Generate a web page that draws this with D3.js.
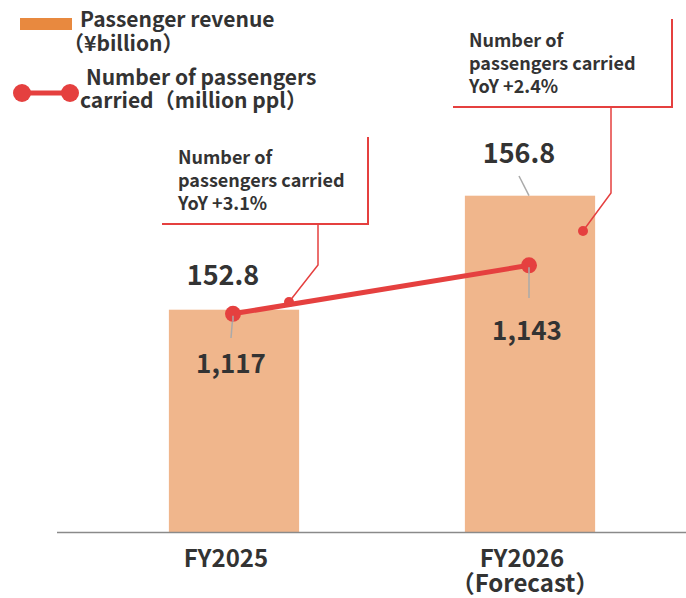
<!DOCTYPE html>
<html>
<head>
<meta charset="utf-8">
<script src="https://cdn.jsdelivr.net/npm/d3@7"></script>
<style>
body{margin:0;background:#fff;}
svg text{font-family:"Noto Sans CJK JP","Noto Sans",sans-serif;fill:#333;}
</style>
</head>
<body>
<svg id="chart" width="686" height="598"></svg>
<script>
// ---- data ----
var years = ["FY2025", "FY2026"];
var yearLabels = [["FY2025"], ["FY2026", "（Forecast）"]];
var revenue = [152.8, 156.8];          // ¥billion
var passengers = [1117, 1143];         // million ppl
var yoyText = ["YoY +3.1%", "YoY +2.4%"];

var COLOR_BAR = "#F0B68C";
var COLOR_LEGEND_BAR = "#E8893F";
var COLOR_RED = "#E5403F";
var BASE_Y = 532;

var svg = d3.select("#chart");

var x = d3.scaleBand().domain(years).range([86, 678]).paddingInner(0.56).paddingOuter(0.28);
// bars don't start at zero in the original
var y = d3.scaleLinear().domain([145, 160]).range([BASE_Y, 104.5]);
var yLine = d3.scaleLinear().domain([1000, 1200]).range([BASE_Y, 159]);

function cx(d){ return x(d) + x.bandwidth()/2; }

// bars
svg.append("g").selectAll("rect")
	.data(years)
	.enter().append("rect")
	.attr("x", function(d){ return x(d); })
	.attr("y", function(d,i){ return y(revenue[i]); })
	.attr("width", x.bandwidth())
	.attr("height", function(d,i){ return BASE_Y - y(revenue[i]); })
	.style("fill", COLOR_BAR);

// axis line
svg.append("line")
	.attr("x1", 57).attr("x2", 686)
	.attr("y1", BASE_Y + 0.5).attr("y2", BASE_Y + 0.5)
	.style("stroke", "#8a8a8a").style("stroke-width", 1.5);

// x labels
yearLabels.forEach(function(lines, i){
	lines.forEach(function(t, j){
		svg.append("text")
			.text(t)
			.attr("x", cx(years[i]) - 8 + (j == 1 ? 3 : 0))
			.attr("y", 567 + j*25)
			.style("text-anchor", "middle")
			.style("font-size", "24px")
			.style("font-weight", "bold");
	});
});

// revenue labels
var revLabelPos = [{dx:-11, y:285}, {dx:-11, y:163}];
revenue.forEach(function(v, i){
	svg.append("text")
		.text(d3.format(".1f")(v))
		.attr("x", cx(years[i]) + revLabelPos[i].dx)
		.attr("y", revLabelPos[i].y)
		.style("text-anchor", "middle")
		.style("font-size", "27px")
		.style("font-weight", "bold");
});
// leader for 156.8
svg.append("line")
	.attr("x1", cx(years[1]) - 11).attr("y1", 176)
	.attr("x2", cx(years[1]) - 1).attr("y2", y(revenue[1]))
	.style("stroke", "#aaa").style("stroke-width", 1.5);

// passenger line
var pts = years.map(function(d, i){ return [cx(d) - 1, yLine(passengers[i])]; });

// gray leaders under points
var paxLabelY = [373, 340];
pts.forEach(function(p, i){
	svg.append("line")
		.attr("x1", p[0]).attr("y1", p[1])
		.attr("x2", p[0] - (i == 0 ? 2 : 0)).attr("y2", paxLabelY[i] - 35 + (i == 0 ? 0 : -7))
		.style("stroke", "#aaa").style("stroke-width", 1.5);
	svg.append("text")
		.text(d3.format(",")(passengers[i]))
		.attr("x", p[0] - 2)
		.attr("y", paxLabelY[i])
		.style("text-anchor", "middle")
		.style("font-size", "26px")
		.style("font-weight", "bold");
});

svg.append("path")
	.attr("d", d3.line()(pts))
	.style("fill", "none")
	.style("stroke", COLOR_RED)
	.style("stroke-width", 5);
svg.selectAll("circle.pt")
	.data(pts)
	.enter().append("circle")
	.attr("class", "pt")
	.attr("cx", function(d){ return d[0]; })
	.attr("cy", function(d){ return d[1]; })
	.attr("r", 8)
	.style("fill", COLOR_RED);
// redraw gray leaders on top of the points (they poke into the dots)
pts.forEach(function(p, i){
	svg.append("line")
		.attr("x1", p[0]).attr("y1", p[1] + 2)
		.attr("x2", p[0]).attr("y2", p[1] + 8)
		.style("stroke", "#aaa").style("stroke-width", 1.5);
});

// callouts
var callouts = [
	{tx:178, ty:164, boxL:162, boxR:368, boxTop:137, boxBot:224, legX:318, legY:265, dotX:289, dotY:302},
	{tx:469, ty:47, boxL:453, boxR:672, boxTop:19, boxBot:107, legX:611, legY:193, dotX:583, dotY:231}
];
callouts.forEach(function(c, i){
	var g = svg.append("g");
	g.append("path")
		.attr("d", "M" + c.boxL + "," + c.boxBot + "H" + c.boxR + "V" + c.boxTop)
		.style("fill", "none").style("stroke", COLOR_RED).style("stroke-width", 2);
	g.append("path")
		.attr("d", "M" + c.legX + "," + c.boxBot + "V" + c.legY + "L" + c.dotX + "," + c.dotY)
		.style("fill", "none").style("stroke", COLOR_RED).style("stroke-width", 1.5);
	g.append("circle")
		.attr("cx", c.dotX).attr("cy", c.dotY).attr("r", 5)
		.style("fill", COLOR_RED);
	var lines = ["Number of", "passengers carried", yoyText[i]];
	lines.forEach(function(t, j){
		g.append("text")
			.text(t)
			.attr("x", c.tx)
			.attr("y", c.ty + j*23)
			.style("font-size", "18px")
			.style("font-weight", "bold");
	});
});

// legend
var leg = svg.append("g");
leg.append("rect")
	.attr("x", 20).attr("y", 18).attr("width", 52).attr("height", 12)
	.style("fill", COLOR_LEGEND_BAR);
leg.append("text").text("Passenger revenue")
	.attr("x", 80).attr("y", 27)
	.style("font-size", "21px").style("font-weight", "bold");
leg.append("text").text("（¥billion）")
	.attr("x", 63).attr("y", 51)
	.style("font-size", "21px").style("font-weight", "bold");
leg.append("line")
	.attr("x1", 22).attr("x2", 70).attr("y1", 93).attr("y2", 93)
	.style("stroke", COLOR_RED).style("stroke-width", 5);
leg.selectAll("circle")
	.data([22, 70])
	.enter().append("circle")
	.attr("cx", function(d){ return d; }).attr("cy", 93).attr("r", 9)
	.style("fill", COLOR_RED);
leg.append("text").text("Number of passengers")
	.attr("x", 86).attr("y", 85)
	.style("font-size", "21px").style("font-weight", "bold");
leg.append("text").text("carried（million ppl）")
	.attr("x", 80).attr("y", 108)
	.style("font-size", "21px").style("font-weight", "bold");
</script>
</body>
</html>
